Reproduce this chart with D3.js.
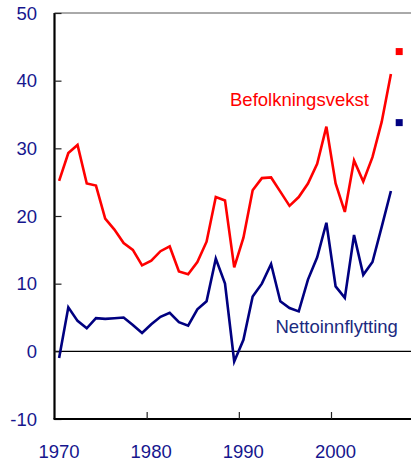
<!DOCTYPE html>
<html>
<head>
<meta charset="utf-8">
<script src="https://cdn.jsdelivr.net/npm/d3@7"></script>
<style>
  html, body { margin: 0; padding: 0; background: #fff; }
  svg { display: block; }
  text { font-family: "Liberation Sans", Arial, sans-serif; }
</style>
</head>
<body>
<svg id="chart" width="411" height="464"></svg>
<script>
// ---- data ----
const years = d3.range(1970, 2007); // 1970..2006
const befolkningsvekst = [25.2, 29.3, 30.5, 24.8, 24.5, 19.6, 18.0, 16.0, 15.0, 12.7,
  13.4, 14.8, 15.5, 11.8, 11.4, 13.2, 16.2, 22.8, 22.3, 12.4,
  16.8, 23.8, 25.6, 25.7, 23.6, 21.5, 22.8, 24.8, 27.7, 33.2,
  24.8, 20.6, 28.2, 25.1, 28.7, 33.9, 41.0];
const nettoinnflytting = [-1.0, 6.5, 4.5, 3.4, 4.9, 4.8, 4.9, 5.0, 3.9, 2.7,
  4.0, 5.1, 5.7, 4.3, 3.8, 6.2, 7.4, 13.7, 10.0, -1.5,
  1.7, 8.1, 10.0, 12.9, 7.4, 6.4, 5.9, 10.6, 13.9, 19.0,
  9.6, 7.9, 17.2, 11.3, 13.2, 18.4, 23.7];
const forecastYear = 2007;
const forecastBefolkning = 44.3;
const forecastNetto = 33.8;
const yTicks = [-10, 0, 10, 20, 30, 40, 50];
const xTicks = [1970, 1980, 1990, 2000];
const seriesNames = ["Befolkningsvekst", "Nettoinnflytting"];

// ---- layout ----
const svg = d3.select("#chart");
const x = d3.scaleLinear().domain([1970, 2008.68]).range([54.5, 411]);
const y = d3.scaleLinear().domain([-10, 50]).range([419, 13]);
const red = "#ff0000", navy = "#000080", tickColor = "#16168e";
const fs = "18.5px";

// top border line at 50
svg.append("line")
  .attr("x1", x(1970)).attr("x2", 411)
  .attr("y1", y(50)).attr("y2", y(50))
  .attr("stroke", "#555").attr("stroke-width", 1);

// zero line
svg.append("line")
  .attr("x1", x(1970)).attr("x2", 411)
  .attr("y1", y(0)).attr("y2", y(0))
  .attr("stroke", "#000").attr("stroke-width", 1.2);

// y axis
const yAxis = svg.append("g").attr("transform", `translate(${x(1970)},0)`)
  .call(d3.axisRight(y).tickValues(yTicks).tickSize(7).tickFormat(""));
yAxis.select(".domain").attr("stroke", "#000").attr("stroke-width", 2.2)
  .attr("d", `M0,${y(50)}V${y(-10)}`);
yAxis.selectAll(".tick line").attr("stroke", "#222").attr("stroke-width", 1.2);

svg.append("g").selectAll("text").data(yTicks).join("text")
  .attr("x", 37).attr("y", d => y(d))
  .attr("dy", "0.36em")
  .attr("text-anchor", "end")
  .attr("fill", tickColor)
  .style("font-size", fs)
  .text(d => d);

// x axis
const xAxis = svg.append("g").attr("transform", `translate(0,${y(-10)})`)
  .call(d3.axisTop(x).tickValues(xTicks.slice(1)).tickSize(7).tickFormat(""));
xAxis.select(".domain").attr("stroke", "#000").attr("stroke-width", 2.2)
  .attr("d", `M${x(1970) - 1},0H411`);
xAxis.selectAll(".tick line").attr("stroke", "#222").attr("stroke-width", 1.2);

svg.append("g").selectAll("text").data(xTicks).join("text")
  .attr("x", d => x(d) + 4.5)
  .attr("y", 458)
  .attr("text-anchor", "middle")
  .attr("fill", tickColor)
  .style("font-size", fs)
  .text(d => d);

// lines (points at mid-year)
const line = d3.line().x(d => x(d[0] + 0.5)).y(d => y(d[1]));
svg.append("path")
  .datum(years.map((yr, i) => [yr, befolkningsvekst[i]]))
  .attr("fill", "none").attr("stroke", red).attr("stroke-width", 2.6)
  .attr("stroke-linejoin", "miter").attr("d", line);
svg.append("path")
  .datum(years.map((yr, i) => [yr, nettoinnflytting[i]]))
  .attr("fill", "none").attr("stroke", navy).attr("stroke-width", 2.6)
  .attr("stroke-linejoin", "miter").attr("d", line);

// forecast markers
const sq = 7;
svg.append("rect")
  .attr("x", x(forecastYear + 0.4) - sq / 2).attr("y", y(forecastBefolkning) - sq / 2)
  .attr("width", sq).attr("height", sq).attr("fill", red);
svg.append("rect")
  .attr("x", x(forecastYear + 0.4) - sq / 2).attr("y", y(forecastNetto) - sq / 2)
  .attr("width", sq).attr("height", sq).attr("fill", navy);

// series labels
svg.append("text").attr("x", 230).attr("y", 105.5)
  .attr("fill", red).style("font-size", fs).text(seriesNames[0]);
svg.append("text").attr("x", 275.5).attr("y", 333)
  .attr("fill", "#1a2a80").style("font-size", fs).text(seriesNames[1]);
</script>
</body>
</html>
